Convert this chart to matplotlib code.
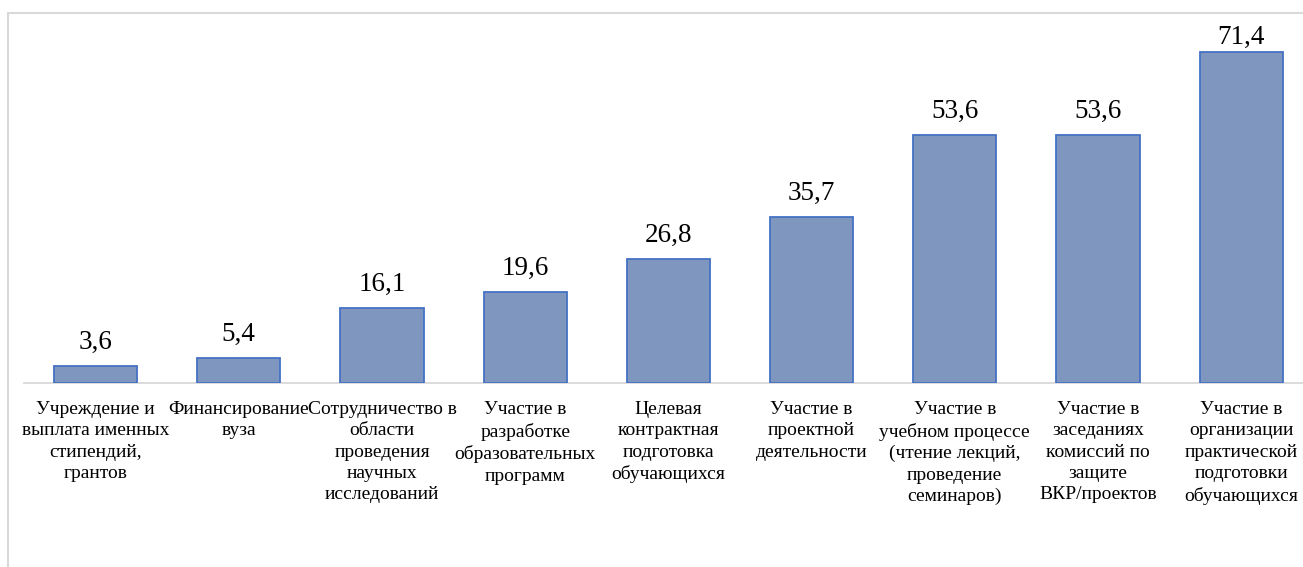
import matplotlib.pyplot as plt
from matplotlib.patches import Rectangle

categories = [
    "Учреждение и\nвыплата именных\nстипендий,\nгрантов",
    "Финансирование\nвуза",
    "Сотрудничество в\nобласти\nпроведения\nнаучных\nисследований",
    "Участие в\nразработке\nобразовательных\nпрограмм",
    "Целевая\nконтрактная\nподготовка\nобучающихся",
    "Участие в\nпроектной\nдеятельности",
    "Участие в\nучебном процессе\n(чтение лекций,\nпроведение\nсеминаров)",
    "Участие в\nзаседаниях\nкомиссий по\nзащите\nВКР/проектов",
    "Участие в\nорганизации\nпрактической\nподготовки\nобучающихся",
]
values = [3.6, 5.4, 16.1, 19.6, 26.8, 35.7, 53.6, 53.6, 71.4]

plt.rcParams['font.family'] = ['Liberation Serif', 'DejaVu Serif']

W, H = 1303, 567
fig = plt.figure(figsize=(W / 100, H / 100), dpi=100)

# axes placement in pixels: baseline at y=383, 143.2 px per category
left_px = 24
step_px = 143.2
ymax = 80
px_per_unit = 331 / 71.4
bottom_px = H - 383
ax = fig.add_axes([left_px / W, bottom_px / H, step_px * 9 / W, ymax * px_per_unit / H])

x = list(range(len(values)))
ax.bar(x, values, width=0.58, color='#7F96BF', edgecolor='#4472C4', linewidth=1.3, zorder=3)

top = max(values)
for xi, v in zip(x, values):
    off = 8 if v < top else 1.5  # top label is squeezed against the plot area
    ax.annotate(f"{v:.1f}".replace('.', ','), (xi, v), xytext=(0, off), textcoords='offset points',
                ha='center', va='bottom', fontsize=19.5, color='black')

ax.set_xlim(-0.5, len(values) - 0.5)
ax.set_ylim(0, ymax)
ax.set_yticks([])
ax.set_xticks(x)
ax.set_xticklabels(categories, fontsize=14, color='black')
for lbl in ax.get_xticklabels():
    lbl.set_linespacing(1.33)
ax.tick_params(axis='x', length=0, pad=13)
for s in ['top', 'right', 'left']:
    ax.spines[s].set_visible(False)
ax.spines['bottom'].set_color('#D9D9D9')
ax.spines['bottom'].set_linewidth(1.3)

# outer chart frame (cut off on the right and bottom)
fig.add_artist(Rectangle((8 / W, -0.2), 2, (H - 13) / H + 0.2, transform=fig.transFigure,
                         fill=False, edgecolor='#D9D9D9', linewidth=1.5))

fig.savefig('out.png', dpi=100)
